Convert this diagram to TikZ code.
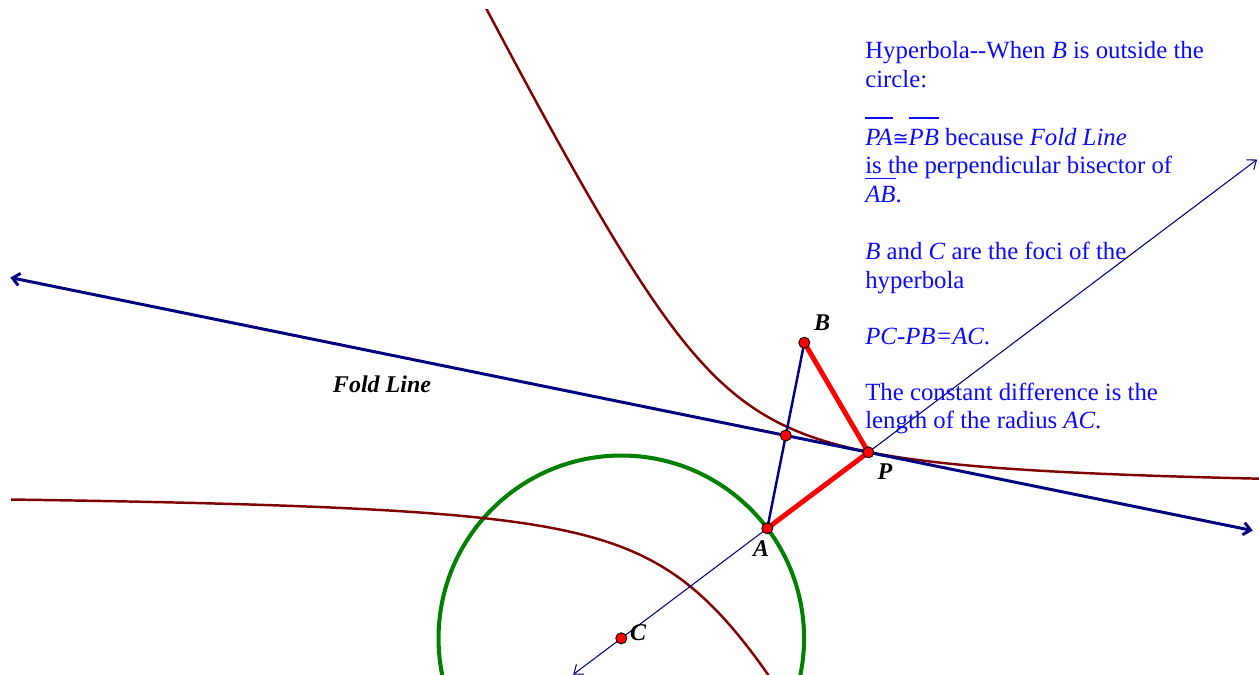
\documentclass[tikz,border=0pt]{standalone}
\usepackage{fontspec}
\setmainfont{Liberation Serif}
\newfontfamily\symfont{DejaVu Sans}
\usetikzlibrary{arrows.meta,calc}
\definecolor{navyc}{RGB}{0,0,128}
\definecolor{hypc}{RGB}{128,0,0}
\definecolor{circc}{RGB}{0,128,0}
\definecolor{txtc}{RGB}{10,10,255}
\definecolor{segc}{RGB}{255,0,0}
\newcommand\myovl[2][1.08em]{\begingroup\setbox0\hbox{#2}\rlap{\rule[#1]{\wd0}{1.1pt}}\box0\endgroup}
\tikzset{
  hyp/.style={draw=hypc, line width=1.4pt},
  foldln/.style={draw=navyc, line width=1.7pt, {Straight Barb[length=4pt,width=7pt]}-{Straight Barb[length=4pt,width=7pt]}},
  rayln/.style={draw=navyc, line width=0.6pt, {Straight Barb[length=4.5pt,width=7pt]}-{Straight Barb[length=4.5pt,width=7pt]}},
  segab/.style={draw=navyc, line width=1.4pt},
  segred/.style={draw=segc, line width=2.8pt},
  pt/.style={circle, fill=red, draw=black, line width=0.5pt, inner sep=0pt, minimum size=6.3pt},
  lbl/.style={font=\fontsize{13.66}{16}\selectfont\bfseries\itshape, inner sep=0pt},
  txt/.style={text=txtc, font=\fontsize{14.1}{16}\selectfont, anchor=base west, inner sep=0pt}
}
\begin{document}
\begin{tikzpicture}[x=0.02cm, y=-0.02cm]
\useasboundingbox (0,0) rectangle (1259,675);
\coordinate (A) at (767.3,528.3);
\coordinate (B) at (804.3,342.7);
\coordinate (C) at (621.3,638.3);
\coordinate (P) at (868.3,452.3);
\coordinate (M) at (785.8,435.5);
\coordinate (FL1) at ($(M)!-9.40!(P)$);
\coordinate (FL2) at ($(M)!5.66!(P)$);
\coordinate (R1) at ($(C)!-0.195!(P)$);
\coordinate (R2) at ($(C)!2.574!(P)$);
\begin{scope}
\clip (11,10) rectangle (1259,675);
\draw[draw=circc, line width=2.3pt] (C) circle[radius=3.656cm];
\draw[hyp] plot[domain=-1.9:1.95, samples=200, variable=\t]
  ({712.8 + 91.4*cosh(\t)*0.5263 + 147.9*sinh(\t)*0.8502},
   {490.5 - 91.4*cosh(\t)*0.8502 + 147.9*sinh(\t)*0.5263});
\draw[hyp] plot[domain=-2.2:1.0, samples=200, variable=\t]
  ({712.8 - 91.4*cosh(\t)*0.5263 + 147.9*sinh(\t)*0.8502},
   {490.5 + 91.4*cosh(\t)*0.8502 + 147.9*sinh(\t)*0.5263});
\end{scope}
\draw[rayln] (R1) -- (R2);
\draw[foldln] (FL1) -- (FL2);
\draw[segab] (A) -- (B);
\draw[segred] (A) -- (P) -- (B);
\node[pt] (nA) at (A) {};
\node[pt] (nB) at (B) {};
\node[pt] (nC) at (C) {};
\node[pt] (nP) at (P) {};
\node[pt] (nM) at (M) {};
\node[lbl] (lB) at (822,323) {B};
\node[lbl] (lP) at (885,472) {P};
\node[lbl] (lA) at (761,549) {A};
\node[lbl] (lC) at (638,633) {C};
\node[lbl] (lF) at (382,384) {Fold Line};
\node[txt] (t1) at (865,59) {Hyperbola-{}-When \textit{B} is outside the};
\node[txt] (t2) at (865,88) {circle:};
\node[txt] (t3) at (865,146) {\myovl{\textit{PA}}{\symfont\fontsize{11}{12}\selectfont ≅}\myovl{\textit{PB}} because \textit{Fold Line}};
\node[txt] (t4) at (865,174) {is the perpendicular bisector of};
\node[txt] (t5) at (865,203) {\myovl[0.95em]{\textit{AB}}.};
\node[txt] (t6) at (865,260) {\textit{B} and \textit{C} are the foci of the};
\node[txt] (t7) at (865,289) {hyperbola};
\node[txt] (t8) at (865,345) {\textit{PC-PB=AC}.};
\node[txt] (t9) at (865,401) {The constant difference is the};
\node[txt] (t10) at (865,429) {length of the radius \textit{AC}.};
\end{tikzpicture}
\end{document}
